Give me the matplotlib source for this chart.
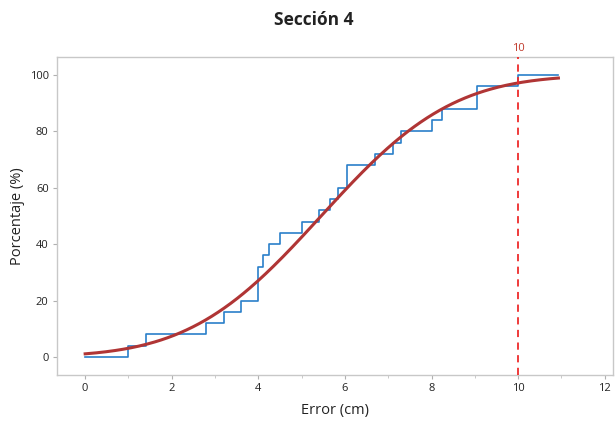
import math
import numpy as np
import matplotlib
matplotlib.use("Agg")
import matplotlib.pyplot as plt
from matplotlib.ticker import MultipleLocator

plt.rcParams['font.family'] = ['Open Sans', 'DejaVu Sans']

# Data: observed errors (cm), empirical CDF
errors = [1.0, 1.4, 2.8, 3.2, 3.6, 4.0, 4.0, 4.0, 4.1, 4.25, 4.5, 5.0, 5.4,
          5.65, 5.85, 6.05, 6.05, 6.7, 7.1, 7.3, 8.0, 8.25, 9.05, 9.05, 10.0]
step_start = 0.0
step_end = 10.93
fit_mean = 5.45
fit_sd = 2.38
ref_value = 10
xticks = [0, 2, 4, 6, 8, 10, 12]
yticks = [0, 20, 40, 60, 80, 100]

fig = plt.figure(figsize=(6.15, 4.21), dpi=100)
ax = fig.add_axes([0.0927, 0.1093, 0.904, 0.7553])

xs = np.sort(np.array(errors))
n = len(xs)
step_x = np.concatenate([[step_start], xs, [step_end]])
step_y = np.concatenate([[0], np.arange(1, n + 1) / n * 100, [100]])
ax.step(step_x, step_y, where='post', color='#2a7fc9', lw=1.2, zorder=2)

cx = np.linspace(step_start, step_end, 300)
cy = np.array([50 * (1 + math.erf((v - fit_mean) / (fit_sd * math.sqrt(2)))) for v in cx])
ax.plot(cx, cy, color='#b03535', lw=2.2, zorder=3)

ax.axvline(ref_value, color='#ee2b2b', lw=1.3, ls=(0, (4, 3)), zorder=4)
ax.text(ref_value, 107.5, str(ref_value), color='#c0392b', ha='center', va='bottom', fontsize=8)

ax.set_xlim(-0.65, 12.19)
ax.set_ylim(-6.4, 106.4)
ax.set_xticks(xticks)
ax.set_yticks(yticks)
ax.xaxis.set_minor_locator(MultipleLocator(1))
ax.tick_params(axis='both', which='major', length=3, color='#b0b0b0', labelsize=8, labelcolor='#222222', pad=3)
ax.tick_params(axis='x', which='minor', length=2, color='#c0c0c0')
for s in ax.spines.values():
    s.set_color('#c8c8c8')
    s.set_linewidth(1.0)

ax.set_xlabel('Error (cm)', fontsize=10.5, color='#222222', labelpad=6)
ax.set_ylabel('Porcentaje (%)', fontsize=10.5, color='#222222', labelpad=3)
fig.suptitle('Sección 4', fontsize=12.5, fontweight='bold', color='#222222', x=0.51, y=0.975)

fig.savefig('out.png', dpi=100)
